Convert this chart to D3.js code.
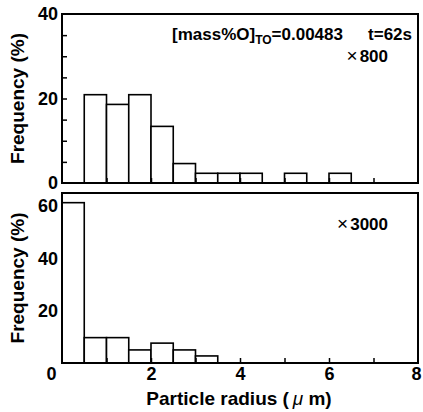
<!DOCTYPE html>
<html lang="en">
<head>
    <meta charset="UTF-8">
    <title>Particle radius histogram</title>
    <script src="https://d3js.org/d3.v7.min.js"></script>
    <style>
        body { margin: 0; background: #fff; }
        text { font-family: "Liberation Sans", Arial, sans-serif; font-weight: bold; fill: #000; }
        .bar { fill: #fff; stroke: #000; stroke-width: 1.6; }
        .frame { fill: none; stroke: #000; stroke-width: 2; }
        .tick line { stroke: #000; stroke-width: 1.5; }
        .tick text { font-size: 18px; }
    </style>
</head>
<body>
    <svg id="chart"></svg>

    <script>
        // bin start (µm), each bin is 0.5 wide
        var binStart = [0, 0.5, 1, 1.5, 2, 2.5, 3, 3.5, 4, 4.5, 5, 5.5, 6, 6.5, 7, 7.5];
        var binWidth = 0.5;
        // frequencies (%)
        var freqTop    = [0, 20.9, 18.6, 20.9, 13.4, 4.6, 2.3, 2.3, 2.3, 0, 2.3, 0, 2.3, 0, 0, 0];
        var freqBottom = [61.3, 9.7, 9.7, 5.0, 7.6, 5.0, 2.7, 0, 0, 0, 0, 0, 0, 0, 0, 0];

        var xTickLabels = [0, 2, 4, 6, 8];
        var xMinorTicks = [1, 2, 3, 4, 5, 6, 7];
        var yTopLabels = [0, 20, 40];
        var yTopTicks = [5, 10, 15, 20, 25, 30, 35];
        var yBottomLabels = [20, 40, 60];

        var width = 423, height = 412;
        var left = 62, right = 418;

        var svg = d3.select("#chart")
                    .attr("width", width)
                    .attr("height", height);

        var x = d3.scaleLinear().domain([0, 8]).range([left, right]);

        function panel(top, bottom, yMax, freq, labels, ticks) {
            var y = d3.scaleLinear().domain([0, yMax]).range([bottom, top]);
            var g = svg.append("g");

            var data = binStart.map(function(b, i) { return { x0: b, v: freq[i] }; })
                               .filter(function(d) { return d.v > 0; });

            g.selectAll(".bar")
             .data(data)
             .enter().append("rect")
             .attr("class", "bar")
             .attr("x", function(d) { return x(d.x0); })
             .attr("width", function(d) { return x(d.x0 + binWidth) - x(d.x0); })
             .attr("y", function(d) { return y(d.v); })
             .attr("height", function(d) { return bottom - y(d.v); });

            // inner x ticks
            g.append("g")
             .attr("transform", "translate(0," + bottom + ")")
             .call(d3.axisBottom(x).tickValues(xMinorTicks).tickSize(-5).tickFormat(""))
             .select(".domain").remove();

            // y labels
            g.append("g")
             .attr("transform", "translate(" + left + ",0)")
             .call(d3.axisLeft(y).tickValues(labels).tickSize(0).tickPadding(4))
             .select(".domain").remove();

            if (ticks) {
                g.append("g")
                 .attr("transform", "translate(" + left + ",0)")
                 .call(d3.axisLeft(y).tickValues(ticks).tickSize(-5).tickFormat(""))
                 .select(".domain").remove();
            }

            g.append("rect")
             .attr("class", "frame")
             .attr("x", left).attr("y", top)
             .attr("width", right - left).attr("height", bottom - top);

            g.append("text")
             .attr("transform", "translate(24," + ((top + bottom) / 2) + ") rotate(-90)")
             .attr("text-anchor", "middle")
             .style("font-size", "19px")
             .text("Frequency (%)");

            return g;
        }

        panel(14, 183, 40, freqTop, yTopLabels, yTopTicks);
        panel(193, 363, 65, freqBottom, yBottomLabels, null);

        // x tick labels under the bottom panel
        var xa = svg.append("g")
           .attr("transform", "translate(0,363)")
           .call(d3.axisBottom(x).tickValues(xTickLabels).tickSize(0).tickPadding(4));
        xa.select(".domain").remove();
        xa.selectAll(".tick text")
          .attr("dx", function(d) { return d === 0 ? -11 : (d === 8 ? -2 : 0); });

        // axis title
        var xt = svg.append("text")
           .attr("x", 239).attr("y", 405)
           .attr("text-anchor", "middle")
           .style("font-size", "19px");
        xt.append("tspan").text("Particle radius (\u2009");
        xt.append("tspan").style("font-style", "italic").style("font-weight", "normal").text("\u03bc");
        xt.append("tspan").text(" m)");

        // annotations
        var ann = svg.append("text")
           .attr("x", 172).attr("y", 40)
           .style("font-size", "17px");
        ann.append("tspan").text("[mass%O]");
        ann.append("tspan").attr("dy", 4).style("font-size", "12px").text("TO");
        ann.append("tspan").attr("dy", -4).text("=0.00483");

        svg.append("text")
           .attr("x", 412).attr("y", 40)
           .attr("text-anchor", "end")
           .style("font-size", "17px")
           .text("t=62s");

        function factor(label, yPos) {
            var t = svg.append("text")
               .attr("x", 388).attr("y", yPos)
               .attr("text-anchor", "end")
               .style("font-size", "17px");
            t.append("tspan").style("font-weight", "normal").style("font-size", "19px").text("\u00d7");
            t.append("tspan").attr("dx", 2).text(label);
        }
        factor("800", 62);
        factor("3000", 230);
    </script>
</body>
</html>
